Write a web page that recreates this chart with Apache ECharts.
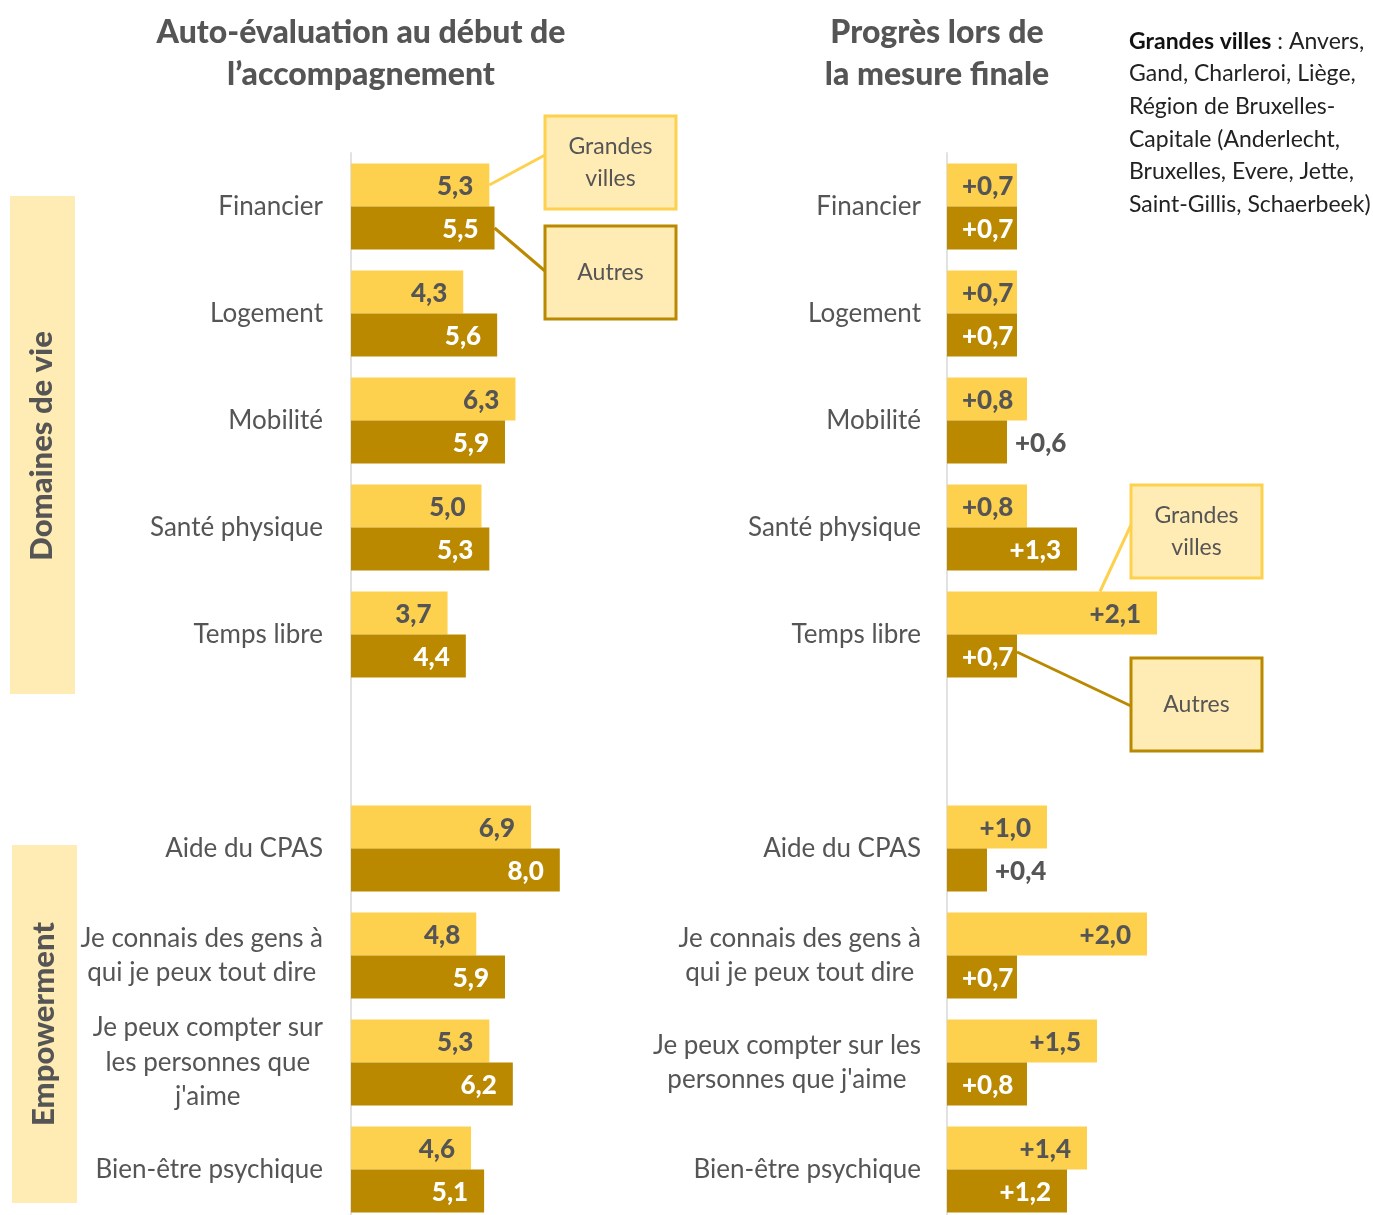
<!DOCTYPE html>
<html><head><meta charset="utf-8">
<script src="https://cdn.jsdelivr.net/npm/echarts@6/dist/echarts.min.js"></script>
<style>html,body{margin:0;padding:0;background:#fff}#c{width:1373px;height:1215px}</style>
</head><body><div id="c"></div>
<script>
const categoriesLeft = ['Financier','Logement','Mobilité','Santé physique','Temps libre','','Aide du CPAS','Je connais des gens à\nqui je peux tout dire','Je peux compter sur\nles personnes que\nj\'aime','Bien-être psychique'];
const categoriesRight = ['Financier','Logement','Mobilité','Santé physique','Temps libre','','Aide du CPAS','Je connais des gens à\nqui je peux tout dire','Je peux compter sur les\npersonnes que j\'aime','Bien-être psychique'];
const debutGrandesVilles = [5.3,4.3,6.3,5.0,3.7,null,6.9,4.8,5.3,4.6];
const debutAutres = [5.5,5.6,5.9,5.3,4.4,null,8.0,5.9,6.2,5.1];
const progresGrandesVilles = [0.7,0.7,0.8,0.8,2.1,null,1.0,2.0,1.5,1.4];
const progresAutres = [0.7,0.7,0.6,1.3,0.7,null,0.4,0.7,0.8,1.2];
const seriesNames = ['Grandes villes','Autres'];
const titleLeft = 'Auto-évaluation au début de\nl\u2019accompagnement';
const titleRight = 'Progrès lors de\nla mesure finale';
const sectionLabels = ['Domaines de vie','Empowerment'];
const noteBold = 'Grandes villes';
const noteText = ' : Anvers,\nGand, Charleroi, Liège,\nRégion de Bruxelles-\nCapitale (Anderlecht,\nBruxelles, Evere, Jette,\nSaint-Gillis, Schaerbeek)';

const FONT = 'Lato, "Source Sans Pro", "Noto Sans", sans-serif';
const YELLOW = '#FDD14D';
const BROWN = '#BA8900';
const FILL = '#FFEBB4';
const GREY = '#555555';

const fmt = v => v.toFixed(1).replace('.', ',');

function makeData(vals, dark, right) {
  return vals.map(v => {
    if (v == null) return '-';
    let label = {};
    if (right) {
      if (v < 0.65) label = {position: 'right', distance: 8, color: GREY};
      else if (v < 0.9) label = {position: 'insideLeft', distance: 15};
    }
    return {value: v, label: label};
  });
}

function barSeries(vals, dark, right, idx) {
  return {
    type: 'bar', name: seriesNames[dark ? 1 : 0],
    xAxisIndex: idx, yAxisIndex: idx,
    data: makeData(vals, dark, right),
    barWidth: 43, barGap: '0%',
    itemStyle: {color: dark ? BROWN : YELLOW},
    label: {
      show: true, position: 'insideRight', distance: 16, offset: [0, 2],
      fontFamily: FONT, fontSize: 26, fontWeight: 900,
      color: dark ? '#ffffff' : GREY,
      formatter: p => (right ? '+' : '') + fmt(p.value)
    },
    silent: true, animation: false
  };
}

function yAxisFor(cats, idx, margin) {
  return {
    type: 'category', gridIndex: idx, inverse: true, data: cats,
    axisLine: {show: true, lineStyle: {color: '#e2e2e2', width: 2}},
    axisTick: {show: false},
    axisLabel: {
      margin: margin, fontFamily: FONT, fontSize: 26, color: GREY,
      formatter: v => v.split('\n').map(l => '{c|' + l + '}').join('\n'),
      rich: {c: {align: 'center', fontFamily: FONT, fontSize: 26, color: GREY, lineHeight: 34.5}}
    }
  };
}

const chart = echarts.init(document.getElementById('c'), null, {renderer: 'canvas'});
chart.setOption({
  animation: false,
  grid: [
    {left: 351, top: 153, width: 261, height: 1070, outerBoundsMode: 'none', containLabel: false},
    {left: 947, top: 153, width: 300, height: 1070, outerBoundsMode: 'none', containLabel: false}
  ],
  xAxis: [
    {type: 'value', gridIndex: 0, min: 0, max: 10, show: false},
    {type: 'value', gridIndex: 1, min: 0, max: 3, show: false}
  ],
  yAxis: [yAxisFor(categoriesLeft, 0, 28), yAxisFor(categoriesRight, 1, 26)],
  series: [
    barSeries(debutGrandesVilles, false, false, 0),
    barSeries(debutAutres, true, false, 0),
    barSeries(progresGrandesVilles, false, true, 1),
    barSeries(progresAutres, true, true, 1)
  ]
});

function px(idx, v, cat) {
  return chart.convertToPixel({xAxisIndex: idx, yAxisIndex: idx}, [v, cat]);
}
const half = 21.5;
const pL1 = px(0, debutGrandesVilles[0], categoriesLeft[0]);
const pL2 = px(0, debutAutres[0], categoriesLeft[0]);
const pR1 = px(1, progresGrandesVilles[4], categoriesRight[4]);
const pR2 = px(1, progresAutres[4], categoriesRight[4]);

function box(x, y, border, text) {
  return [
    {type: 'rect', shape: {x: x, y: y, width: 131, height: 93}, style: {fill: FILL, stroke: border, lineWidth: 3}, z: 10},
    {type: 'text', x: x + 65.5, y: y + 46.5, z: 11,
     style: {text: text, fill: GREY, font: '23px ' + FONT, textAlign: 'center', textVerticalAlign: 'middle', lineHeight: 32}}
  ];
}
function line(x1, y1, x2, y2, color) {
  return {type: 'line', shape: {x1: x1, y1: y1, x2: x2, y2: y2}, style: {stroke: color, lineWidth: 3}, z: 9};
}

const graphics = [
  {type: 'text', x: 361, y: 12, style: {text: titleLeft, fill: GREY, font: '900 32px ' + FONT, textAlign: 'center', textVerticalAlign: 'top', lineHeight: 42}, z: 5},
  {type: 'text', x: 937, y: 12, style: {text: titleRight, fill: GREY, font: '900 32px ' + FONT, textAlign: 'center', textVerticalAlign: 'top', lineHeight: 42}, z: 5},
  {type: 'text', x: 1129, y: 25, z: 5, style: {
    text: '{b|' + noteBold + '}' + noteText.split('\n').map(l => '{n|' + l + '}').join('\n'),
    textAlign: 'left', textVerticalAlign: 'top',
    rich: {
      b: {fontFamily: FONT, fontSize: 23, fontWeight: 'bold', fill: '#111', lineHeight: 32.6},
      n: {fontFamily: FONT, fontSize: 23, fill: '#222', lineHeight: 32.6}
    }}},
  {type: 'rect', shape: {x: 10, y: 196, width: 65, height: 498}, style: {fill: FILL}, z: 20},
  {type: 'text', x: 42, y: 446, rotation: Math.PI / 2, z: 21,
   style: {text: sectionLabels[0], fill: GREY, font: '900 31px ' + FONT, textAlign: 'center', textVerticalAlign: 'middle'}},
  {type: 'rect', shape: {x: 12, y: 845, width: 65, height: 358}, style: {fill: FILL}, z: 20},
  {type: 'text', x: 44, y: 1024, rotation: Math.PI / 2, z: 21,
   style: {text: sectionLabels[1], fill: GREY, font: '900 31px ' + FONT, textAlign: 'center', textVerticalAlign: 'middle'}},
  line(pL1[0], pL1[1] - half, 545, 155, YELLOW),
  line(pL2[0], pL2[1] + half, 545, 271, BROWN),
  line(pR1[0] - 57, pR1[1] - half - half, 1131, 525, YELLOW),
  line(pR2[0], pR2[1] + half - 4, 1131, 706, BROWN)
].concat(box(545, 116, YELLOW, 'Grandes\nvilles'), box(545, 226, BROWN, 'Autres'),
         box(1131, 485, YELLOW, 'Grandes\nvilles'), box(1131, 658, BROWN, 'Autres'));

chart.setOption({graphic: graphics});
</script>
</body></html>
